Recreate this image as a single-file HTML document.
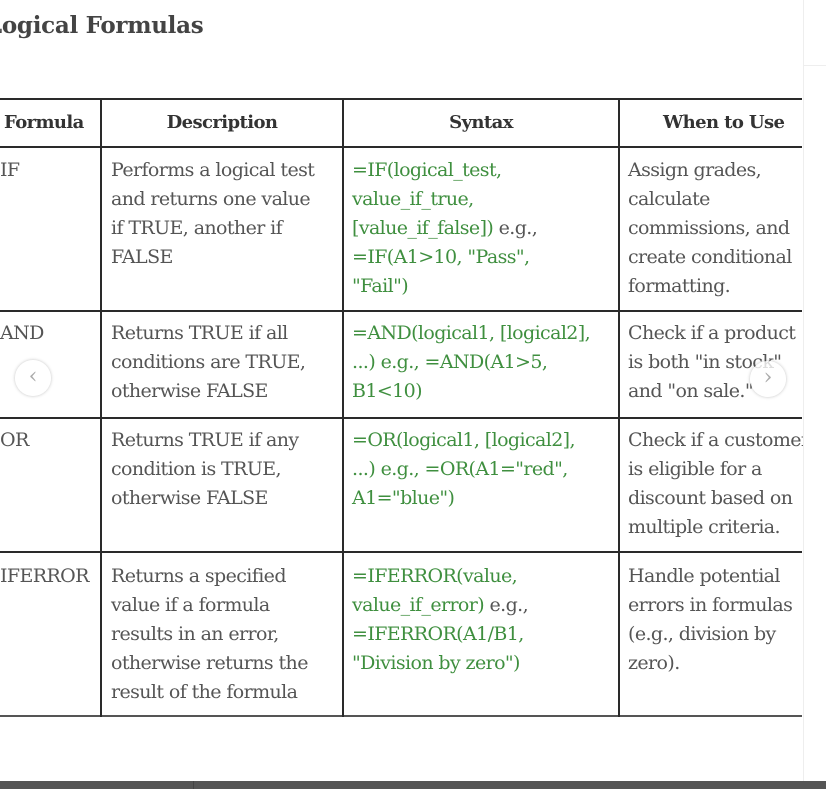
<!DOCTYPE html>
<html><head><meta charset="utf-8"><style>
body{margin:0;width:826px;height:789px;overflow:hidden;background:#fff;position:relative;font-family:"DejaVu Serif","Liberation Serif",serif;}
.title{position:absolute;left:-14px;top:12px;font-size:23px;font-weight:bold;color:#444;letter-spacing:-0.3px}
.h{position:absolute;left:0;width:802px;height:2px;background:#2a2a2a;}
.v{position:absolute;width:2px;background:#2a2a2a;top:99px;height:618px;}
.c{position:absolute;font-size:19px;line-height:29px;color:#555;white-space:nowrap;letter-spacing:-0.6px}
.hd{font-weight:bold;color:#333;text-align:center;font-size:18px}
.g{color:#3f8f3f}
.nav{position:absolute;width:36px;height:36px;border-radius:50%;background:rgba(255,255,255,.8);box-shadow:0 0 3px rgba(0,0,0,.25);color:#aaa;font-size:22px;line-height:34px;text-align:center}
</style></head><body>
<div class="title">Logical Formulas</div>
<div class="h" style="top:98px"></div><div class="h" style="top:146px"></div><div class="h" style="top:310px"></div><div class="h" style="top:417px"></div><div class="h" style="top:551px"></div><div class="h" style="top:715px;background:#555"></div>
<div class="v" style="left:100px"></div><div class="v" style="left:342px"></div><div class="v" style="left:618px"></div>
<div class="c hd" style="left:4px;top:108px">Formula</div>
<div class="c hd" style="left:102px;width:240px;top:108px">Description</div>
<div class="c hd" style="left:344px;width:274px;top:108px">Syntax</div>
<div class="c hd" style="left:663px;top:108px">When to Use</div>

<div class="c" style="left:0;top:156px">IF</div>
<div class="c" style="left:111px;top:156px">Performs a logical test<br>and returns one value<br>if TRUE, another if<br>FALSE</div>
<div class="c g" style="left:352px;top:156px">=IF(logical_test,<br>value_if_true,<br>[value_if_false]) <span style="color:#555">e.g.,</span><br>=IF(A1&gt;10, "Pass",<br>"Fail")</div>
<div class="c" style="left:628px;top:156px">Assign grades,<br>calculate<br>commissions, and<br>create conditional<br>formatting.</div>

<div class="c" style="left:0;top:319px">AND</div>
<div class="c" style="left:111px;top:319px">Returns TRUE if all<br>conditions are TRUE,<br>otherwise FALSE</div>
<div class="c g" style="left:352px;top:319px">=AND(logical1, [logical2],<br>...) e.g., =AND(A1&gt;5,<br>B1&lt;10)</div>
<div class="c" style="left:628px;top:319px">Check if a product<br>is both "in stock"<br>and "on sale."</div>

<div class="c" style="left:0;top:426px">OR</div>
<div class="c" style="left:111px;top:426px">Returns TRUE if any<br>condition is TRUE,<br>otherwise FALSE</div>
<div class="c g" style="left:352px;top:426px">=OR(logical1, [logical2],<br>...) e.g., =OR(A1="red",<br>A1="blue")</div>
<div class="c" style="left:628px;top:426px">Check if a customer<br>is eligible for a<br>discount based on<br>multiple criteria.</div>

<div class="c" style="left:0;top:562px">IFERROR</div>
<div class="c" style="left:111px;top:562px">Returns a specified<br>value if a formula<br>results in an error,<br>otherwise returns the<br>result of the formula</div>
<div class="c g" style="left:352px;top:562px">=IFERROR(value,<br>value_if_error) <span style="color:#555">e.g.,</span><br>=IFERROR(A1/B1,<br>"Division by zero")</div>
<div class="c" style="left:628px;top:562px">Handle potential<br>errors in formulas<br>(e.g., division by<br>zero).</div>

<div style="position:absolute;left:803px;top:0;width:23px;height:789px;background:#fff"></div>
<div style="position:absolute;left:803px;top:66px;width:1px;height:715px;background:#eee"></div>
<div style="position:absolute;left:803px;top:0;width:23px;height:66px;border-left:1px solid #eee;border-bottom:1px solid #eee;box-sizing:border-box"></div>
<div class="nav" style="left:15px;top:360px">‹</div>
<div class="nav" style="left:750px;top:361px">›</div>
<div style="position:absolute;left:0;top:781px;width:826px;height:8px;background:#555"></div>
<div style="position:absolute;left:193px;top:781px;width:1px;height:8px;background:#444"></div>
</body></html>
